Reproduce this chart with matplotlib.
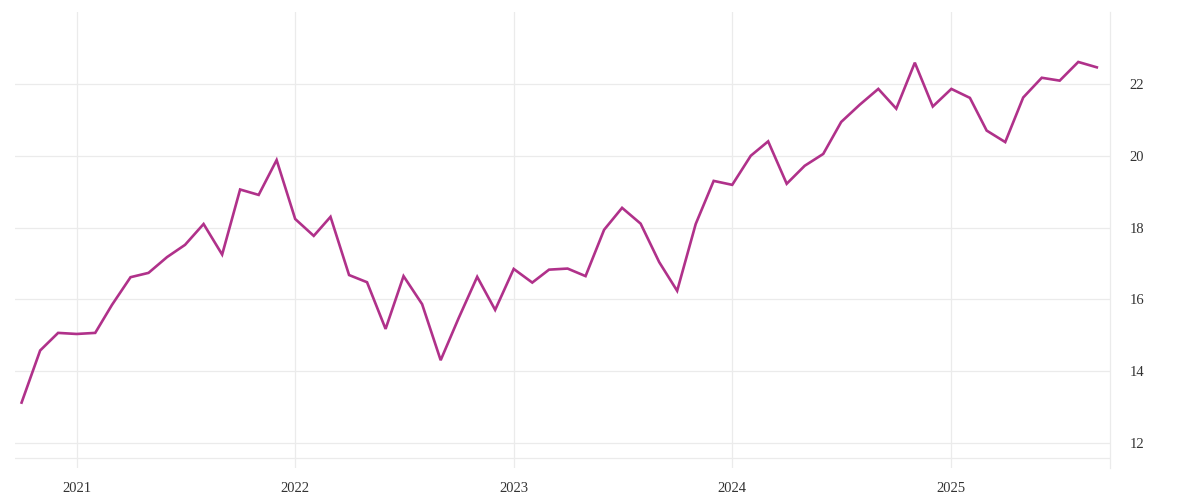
import numpy as np
import pandas as pd
import matplotlib
matplotlib.use('Agg')
import matplotlib.pyplot as plt
import matplotlib.dates as mdates

dates = pd.date_range('2020-10-01', '2025-09-01', freq='MS')
values = [
    13.13, 14.58, 15.07, 15.04, 15.07, 15.85, 16.62, 16.74, 17.18, 17.52,
    18.10, 17.25, 19.06, 18.91, 19.88, 18.24, 17.77, 18.30, 16.68, 16.48,
    15.18, 16.65, 15.87, 14.31, 15.48, 16.63, 15.71, 16.85, 16.47, 16.83,
    16.86, 16.65, 17.94, 18.55, 18.11, 17.04, 16.24, 18.10, 19.30, 19.19,
    20.00, 20.40, 19.22, 19.72, 20.05, 20.94, 21.42, 21.86, 21.31, 22.59,
    21.37, 21.86, 21.61, 20.70, 20.38, 21.62, 22.17, 22.09, 22.61, 22.46,
]
year_ticks = pd.to_datetime(['2021-01-01', '2022-01-01', '2023-01-01', '2024-01-01', '2025-01-01'])
year_labels = ['2021', '2022', '2023', '2024', '2025']
y_ticks = [12, 14, 16, 18, 20, 22]

fig = plt.figure(figsize=(12, 5), dpi=100)
ax = fig.add_axes([15/1200, 32/500, 1095/1200, 456/500])

grid_c = '#ebebeb'
ax.plot(dates, values, color='#b0318a', lw=1.9, zorder=3, solid_joinstyle='miter')

ax.set_xlim(pd.Timestamp('2020-09-20'), pd.Timestamp('2025-09-23'))
ax.set_ylim(11.31, 24.0)

ax.set_xticks(year_ticks)
ax.set_xticklabels(year_labels)
ax.set_yticks(y_ticks)
ax.yaxis.tick_right()
ax.grid(True, color=grid_c, lw=0.9)
ax.axhline(11.58, color=grid_c, lw=0.9)

for s in ['top', 'bottom', 'left']:
    ax.spines[s].set_visible(False)
ax.spines['right'].set_color(grid_c)
ax.spines['right'].set_linewidth(0.9)

ax.tick_params(axis='both', length=0, labelsize=10.5, labelcolor='#333333')
ax.tick_params(axis='x', pad=10)
ax.tick_params(axis='y', pad=14)
for lab in ax.get_xticklabels() + ax.get_yticklabels():
    lab.set_fontfamily('Liberation Serif')

fig.savefig('out.png', dpi=100)
